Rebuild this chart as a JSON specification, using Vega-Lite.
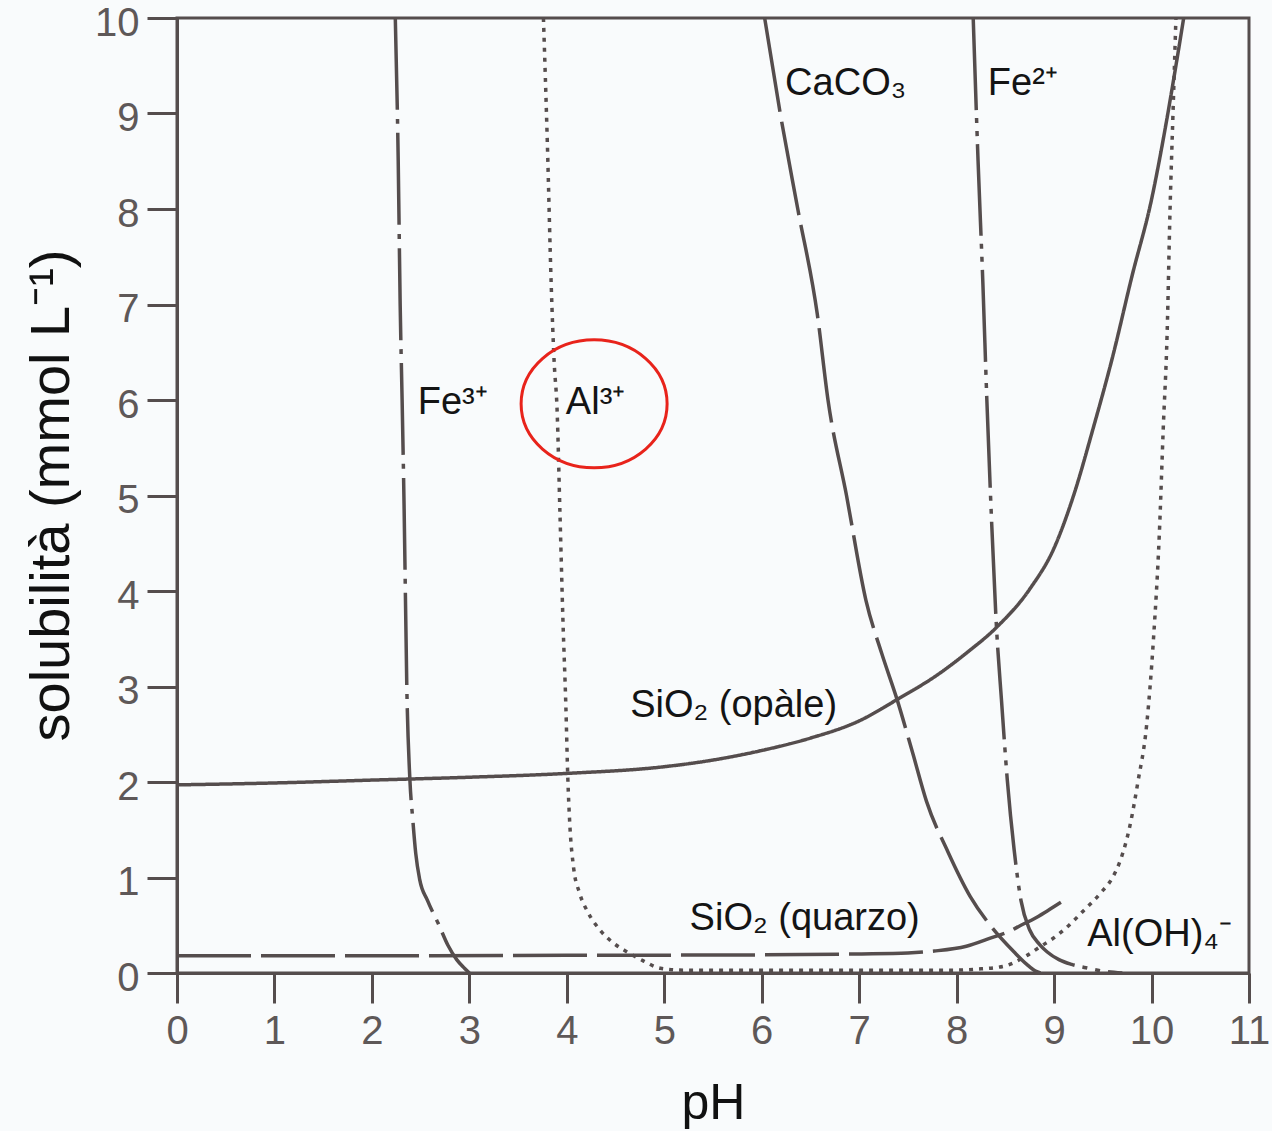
{
  "$schema": "https://vega.github.io/schema/vega-lite/v6.json",
  "width": 1072,
  "height": 955,
  "autosize": {"type": "none"},
  "padding": {"left": 177, "top": 18, "right": 23, "bottom": 158},
  "background": "#f9fbfc",
  "config": {"view": {"stroke": "#554d4d", "strokeWidth": 3}, "font": "Liberation Sans"},
  "datasets": {
    "curves": [
      {"s": "Fe3", "k": 1, "pH": 2.24, "S": 10}, {"s": "Fe3", "k": 2, "pH": 2.27, "S": 8.5}, {"s": "Fe3", "k": 3, "pH": 2.29, "S": 7}, {"s": "Fe3", "k": 4, "pH": 2.31, "S": 6}, {"s": "Fe3", "k": 5, "pH": 2.33, "S": 4.9}, {"s": "Fe3", "k": 6, "pH": 2.36, "S": 2.9}, {"s": "Fe3", "k": 7, "pH": 2.39, "S": 2.02}, {"s": "Fe3", "k": 8, "pH": 2.42, "S": 1.6}, {"s": "Fe3", "k": 9, "pH": 2.45, "S": 1.25}, {"s": "Fe3", "k": 10, "pH": 2.49, "S": 0.98}, {"s": "Fe3", "k": 11, "pH": 2.57, "S": 0.76}, {"s": "Fe3", "k": 12, "pH": 2.68, "S": 0.52}, {"s": "Fe3", "k": 13, "pH": 2.78, "S": 0.29}, {"s": "Fe3", "k": 14, "pH": 2.87, "S": 0.14}, {"s": "Fe3", "k": 15, "pH": 2.95, "S": 0.05}, {"s": "Fe3", "k": 16, "pH": 3.0, "S": 0.0},
      {"s": "Al", "k": 1, "pH": 3.76, "S": 10}, {"s": "Al", "k": 2, "pH": 3.8, "S": 8.7}, {"s": "Al", "k": 3, "pH": 3.84, "S": 7.2}, {"s": "Al", "k": 4, "pH": 3.87, "S": 6.4}, {"s": "Al", "k": 5, "pH": 3.9, "S": 5.9}, {"s": "Al", "k": 6, "pH": 3.93, "S": 4.8}, {"s": "Al", "k": 7, "pH": 3.96, "S": 3.7}, {"s": "Al", "k": 8, "pH": 3.99, "S": 2.8}, {"s": "Al", "k": 9, "pH": 4.01, "S": 2.05}, {"s": "Al", "k": 10, "pH": 4.03, "S": 1.57}, {"s": "Al", "k": 11, "pH": 4.07, "S": 1.1}, {"s": "Al", "k": 12, "pH": 4.13, "S": 0.84}, {"s": "Al", "k": 13, "pH": 4.22, "S": 0.63}, {"s": "Al", "k": 14, "pH": 4.34, "S": 0.45}, {"s": "Al", "k": 15, "pH": 4.47, "S": 0.32}, {"s": "Al", "k": 16, "pH": 4.62, "S": 0.22}, {"s": "Al", "k": 17, "pH": 4.78, "S": 0.13}, {"s": "Al", "k": 18, "pH": 4.96, "S": 0.05}, {"s": "Al", "k": 19, "pH": 5.2, "S": 0.03}, {"s": "Al", "k": 20, "pH": 6, "S": 0.03}, {"s": "Al", "k": 21, "pH": 7, "S": 0.03}, {"s": "Al", "k": 22, "pH": 8, "S": 0.03}, {"s": "Al", "k": 23, "pH": 8.2, "S": 0.04}, {"s": "Al", "k": 24, "pH": 8.48, "S": 0.07}, {"s": "Al", "k": 25, "pH": 8.7, "S": 0.17}, {"s": "Al", "k": 26, "pH": 8.85, "S": 0.27}, {"s": "Al", "k": 27, "pH": 9.0, "S": 0.37}, {"s": "Al", "k": 28, "pH": 9.11, "S": 0.46}, {"s": "Al", "k": 29, "pH": 9.3, "S": 0.65}, {"s": "Al", "k": 30, "pH": 9.48, "S": 0.84}, {"s": "Al", "k": 31, "pH": 9.6, "S": 1.0}, {"s": "Al", "k": 32, "pH": 9.68, "S": 1.18}, {"s": "Al", "k": 33, "pH": 9.78, "S": 1.55}, {"s": "Al", "k": 34, "pH": 9.86, "S": 2.0}, {"s": "Al", "k": 35, "pH": 9.95, "S": 2.6}, {"s": "Al", "k": 36, "pH": 10.02, "S": 3.5}, {"s": "Al", "k": 37, "pH": 10.08, "S": 4.6}, {"s": "Al", "k": 38, "pH": 10.12, "S": 5.7}, {"s": "Al", "k": 39, "pH": 10.16, "S": 6.7}, {"s": "Al", "k": 40, "pH": 10.19, "S": 8.0}, {"s": "Al", "k": 41, "pH": 10.22, "S": 9.0}, {"s": "Al", "k": 42, "pH": 10.25, "S": 10},
      {"s": "CaCO3", "k": 1, "pH": 6.03, "S": 10}, {"s": "CaCO3", "k": 2, "pH": 6.19, "S": 9}, {"s": "CaCO3", "k": 3, "pH": 6.37, "S": 8}, {"s": "CaCO3", "k": 4, "pH": 6.57, "S": 6.9}, {"s": "CaCO3", "k": 5, "pH": 6.68, "S": 6}, {"s": "CaCO3", "k": 6, "pH": 6.87, "S": 5}, {"s": "CaCO3", "k": 7, "pH": 7.07, "S": 3.9}, {"s": "CaCO3", "k": 8, "pH": 7.23, "S": 3.35}, {"s": "CaCO3", "k": 9, "pH": 7.39, "S": 2.86}, {"s": "CaCO3", "k": 10, "pH": 7.55, "S": 2.3}, {"s": "CaCO3", "k": 11, "pH": 7.69, "S": 1.8}, {"s": "CaCO3", "k": 12, "pH": 7.91, "S": 1.27}, {"s": "CaCO3", "k": 13, "pH": 8.14, "S": 0.8}, {"s": "CaCO3", "k": 14, "pH": 8.36, "S": 0.48}, {"s": "CaCO3", "k": 15, "pH": 8.59, "S": 0.22}, {"s": "CaCO3", "k": 16, "pH": 8.72, "S": 0.09}, {"s": "CaCO3", "k": 17, "pH": 8.81, "S": 0.02}, {"s": "CaCO3", "k": 18, "pH": 8.86, "S": 0},
      {"s": "Fe2", "k": 1, "pH": 8.17, "S": 10}, {"s": "Fe2", "k": 2, "pH": 8.22, "S": 8.5}, {"s": "Fe2", "k": 3, "pH": 8.27, "S": 7.2}, {"s": "Fe2", "k": 4, "pH": 8.31, "S": 6}, {"s": "Fe2", "k": 5, "pH": 8.36, "S": 4.7}, {"s": "Fe2", "k": 6, "pH": 8.41, "S": 3.6}, {"s": "Fe2", "k": 7, "pH": 8.46, "S": 2.86}, {"s": "Fe2", "k": 8, "pH": 8.52, "S": 2.02}, {"s": "Fe2", "k": 9, "pH": 8.59, "S": 1.29}, {"s": "Fe2", "k": 10, "pH": 8.66, "S": 0.76}, {"s": "Fe2", "k": 11, "pH": 8.75, "S": 0.45}, {"s": "Fe2", "k": 12, "pH": 8.85, "S": 0.3}, {"s": "Fe2", "k": 13, "pH": 8.93, "S": 0.22}, {"s": "Fe2", "k": 14, "pH": 9.05, "S": 0.14}, {"s": "Fe2", "k": 15, "pH": 9.18, "S": 0.09}, {"s": "Fe2", "k": 16, "pH": 9.35, "S": 0.05}, {"s": "Fe2", "k": 17, "pH": 9.5, "S": 0.02}, {"s": "Fe2", "k": 18, "pH": 9.7, "S": 0},
      {"s": "opal", "k": 1, "pH": 0, "S": 1.97}, {"s": "opal", "k": 2, "pH": 1, "S": 1.99}, {"s": "opal", "k": 3, "pH": 2, "S": 2.02}, {"s": "opal", "k": 4, "pH": 3, "S": 2.05}, {"s": "opal", "k": 5, "pH": 4, "S": 2.09}, {"s": "opal", "k": 6, "pH": 5, "S": 2.16}, {"s": "opal", "k": 7, "pH": 5.5, "S": 2.23}, {"s": "opal", "k": 8, "pH": 6, "S": 2.33}, {"s": "opal", "k": 9, "pH": 6.5, "S": 2.46}, {"s": "opal", "k": 10, "pH": 7, "S": 2.64}, {"s": "opal", "k": 11, "pH": 7.4, "S": 2.87}, {"s": "opal", "k": 12, "pH": 7.8, "S": 3.12}, {"s": "opal", "k": 13, "pH": 8.1, "S": 3.35}, {"s": "opal", "k": 14, "pH": 8.41, "S": 3.62}, {"s": "opal", "k": 15, "pH": 8.75, "S": 4.02}, {"s": "opal", "k": 16, "pH": 9.0, "S": 4.45}, {"s": "opal", "k": 17, "pH": 9.2, "S": 5.0}, {"s": "opal", "k": 18, "pH": 9.4, "S": 5.7}, {"s": "opal", "k": 19, "pH": 9.6, "S": 6.45}, {"s": "opal", "k": 20, "pH": 9.8, "S": 7.3}, {"s": "opal", "k": 21, "pH": 10.0, "S": 8.1}, {"s": "opal", "k": 22, "pH": 10.15, "S": 8.9}, {"s": "opal", "k": 23, "pH": 10.25, "S": 9.5}, {"s": "opal", "k": 24, "pH": 10.33, "S": 10},
      {"s": "quartz", "k": 1, "pH": 0, "S": 0.18}, {"s": "quartz", "k": 2, "pH": 2, "S": 0.18}, {"s": "quartz", "k": 3, "pH": 4, "S": 0.185}, {"s": "quartz", "k": 4, "pH": 6, "S": 0.19}, {"s": "quartz", "k": 5, "pH": 7, "S": 0.2}, {"s": "quartz", "k": 6, "pH": 7.5, "S": 0.21}, {"s": "quartz", "k": 7, "pH": 7.77, "S": 0.23}, {"s": "quartz", "k": 8, "pH": 8.1, "S": 0.28}, {"s": "quartz", "k": 9, "pH": 8.36, "S": 0.37}, {"s": "quartz", "k": 10, "pH": 8.55, "S": 0.44}, {"s": "quartz", "k": 11, "pH": 8.66, "S": 0.5}, {"s": "quartz", "k": 12, "pH": 8.8, "S": 0.57}, {"s": "quartz", "k": 13, "pH": 8.93, "S": 0.65}, {"s": "quartz", "k": 14, "pH": 9.07, "S": 0.74}
    ],
    "labels": [
      {"t": "Fe³⁺", "pH": 2.47, "S": 5.85},
      {"t": "Al³⁺", "pH": 3.99, "S": 5.85},
      {"t": "CaCO₃", "pH": 6.24, "S": 9.19},
      {"t": "Fe²⁺", "pH": 8.32, "S": 9.19},
      {"t": "SiO₂ (opàle)", "pH": 4.65, "S": 2.68},
      {"t": "SiO₂ (quarzo)", "pH": 5.26, "S": 0.45},
      {"t": "Al(OH)₄⁻", "pH": 9.34, "S": 0.28}
    ],
    "circle": [{"pH": 4.28, "S": 5.96}]
  },
  "layer": [
    {
      "data": {"name": "curves"},
      "mark": {"type": "line", "color": "#554d4d", "strokeWidth": 3.5, "strokeCap": "butt", "interpolate": "monotone", "clip": true},
      "encoding": {
        "x": {
          "field": "pH", "type": "quantitative",
          "scale": {"domain": [0, 11], "nice": false, "zero": false},
          "axis": {
            "values": [0, 1, 2, 3, 4, 5, 6, 7, 8, 9, 10, 11], "format": "d", "labelOverlap": false, "labelFlush": false,
            "grid": false, "tickSize": 30, "tickWidth": 3, "tickColor": "#554d4d",
            "domainColor": "#554d4d", "domainWidth": 3,
            "labelFontSize": 40, "labelColor": "#5e5858", "labelPadding": 8, "labelFont": "Liberation Sans",
            "title": "pH", "titleFontSize": 50, "titleFontWeight": "normal", "titleColor": "#111111", "titleFont": "Liberation Sans",
            "titleX": 536, "titleY": 145, "titleBaseline": "alphabetic", "titleAlign": "center"
          }
        },
        "y": {
          "field": "S", "type": "quantitative",
          "scale": {"domain": [0, 10], "nice": false},
          "axis": {
            "values": [0, 1, 2, 3, 4, 5, 6, 7, 8, 9, 10], "format": "d", "labelOverlap": false, "labelFlush": false,
            "grid": false, "tickSize": 30, "tickWidth": 3, "tickColor": "#554d4d",
            "domainColor": "#554d4d", "domainWidth": 3,
            "labelFontSize": 40, "labelColor": "#5e5858", "labelPadding": 8, "labelOffset": 5, "labelFont": "Liberation Sans",
            "title": "solubilità (mmol L⁻¹)", "titleFontSize": 56, "titleFontWeight": "normal", "titleColor": "#111111", "titleFont": "Liberation Sans",
            "titleX": -109, "titleY": 477, "titleBaseline": "alphabetic", "titleAlign": "center", "titleAngle": -90
          }
        },
        "strokeDash": {
          "field": "s", "type": "nominal",
          "scale": {
            "domain": ["Fe3", "Fe2", "Al", "CaCO3", "opal", "quartz"],
            "range": [[92, 9, 5, 9], [92, 8, 5, 8, 5, 8], [4, 6], [95, 10], [1, 0], [74, 10]]
          },
          "legend": null
        },
        "order": {"field": "k", "type": "quantitative"}
      }
    },
    {
      "data": {"name": "labels"},
      "mark": {"type": "text", "align": "left", "baseline": "alphabetic", "fontSize": 38, "color": "#141414", "font": "Liberation Sans"},
      "encoding": {
        "x": {"field": "pH", "type": "quantitative"},
        "y": {"field": "S", "type": "quantitative"},
        "text": {"field": "t"}
      }
    },
    {
      "data": {"name": "circle"},
      "mark": {"type": "point", "shape": "M-1,0A1,0.877,0,1,1,1,0A1,0.877,0,1,1,-1,0Z", "size": 21316, "filled": false, "stroke": "#e8231b", "strokeWidth": 3, "opacity": 1},
      "encoding": {
        "x": {"field": "pH", "type": "quantitative"},
        "y": {"field": "S", "type": "quantitative"}
      }
    }
  ]
}
